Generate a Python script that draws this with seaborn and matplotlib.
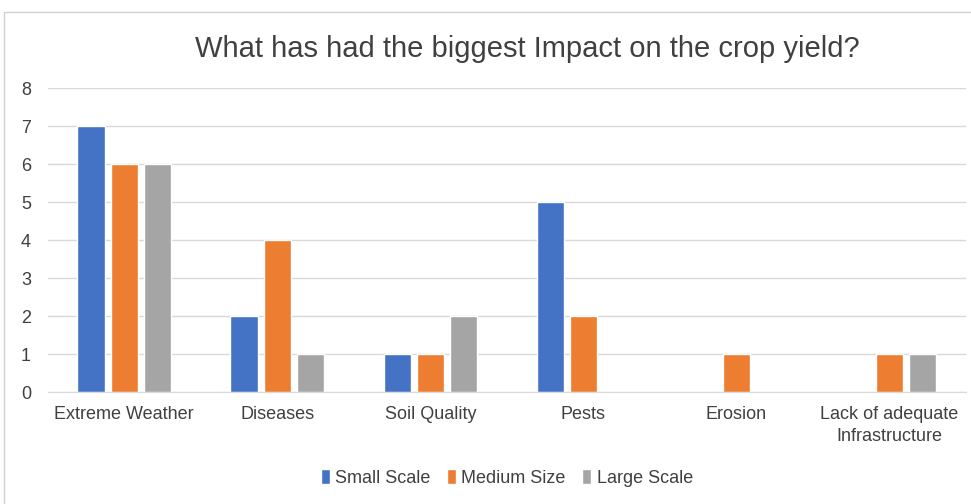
import pandas as pd
import matplotlib.pyplot as plt
import seaborn as sns
from matplotlib.patches import Rectangle

# Survey answers per farm size
categories = ["Extreme Weather", "Diseases", "Soil Quality", "Pests", "Erosion",
              "Lack of adequate\nInfrastructure"]
small_scale = [7, 2, 1, 5, 0, 0]
medium_size = [6, 4, 1, 2, 1, 1]
large_scale = [6, 1, 2, 0, 0, 1]
series_names = ["Small Scale", "Medium Size", "Large Scale"]
colors = ["#4472C4", "#ED7D31", "#A5A5A5"]

df = pd.DataFrame({"Impact": categories * 3,
                   "Count": small_scale + medium_size + large_scale,
                   "Farm": [n for n in series_names for _ in categories]})

sns.set_style("white")
plt.rcParams["font.family"] = ["Liberation Sans", "DejaVu Sans"]

fig = plt.figure(figsize=(9.71, 5.04), dpi=100)
ax = fig.add_axes([0.049, 0.222, 0.946, 0.603])

sns.barplot(data=df, x="Impact", y="Count", hue="Farm", palette=colors,
            width=0.65, gap=0.18, ax=ax, saturation=1)

ax.set_ylim(0, 8)
ax.set_yticks(range(0, 9))
ax.grid(axis="y", color="#D9D9D9", linewidth=1)
ax.set_axisbelow(True)
for s in ["top", "right", "left"]:
    ax.spines[s].set_visible(False)
ax.spines["bottom"].set_color("#D9D9D9")
ax.tick_params(axis="both", length=0, labelsize=13, colors="#404040")
ax.tick_params(axis="y", pad=12)
ax.tick_params(axis="x", pad=10)
for lbl in ax.get_xticklabels():
    lbl.set_linespacing(1.35)
ax.set_xlabel("")
ax.set_ylabel("")

fig.suptitle("What has had the biggest Impact on the crop yield?", x=0.543, y=0.93,
             fontsize=21, color="#404040")

leg = ax.legend(loc="upper center", bbox_to_anchor=(0.5, -0.2), ncol=3, frameon=False,
                fontsize=13, handlelength=0.5, handleheight=0.9, handletextpad=0.3,
                columnspacing=0.9)
for t in leg.get_texts():
    t.set_color("#404040")

# chart border
fig.patches.append(Rectangle((4 / 971, -0.1), 1.2, 1 - 12 / 504 + 0.1,
                             transform=fig.transFigure, fill=False,
                             edgecolor="#D0D0D0", linewidth=1))

fig.savefig("out.png", dpi=100)
